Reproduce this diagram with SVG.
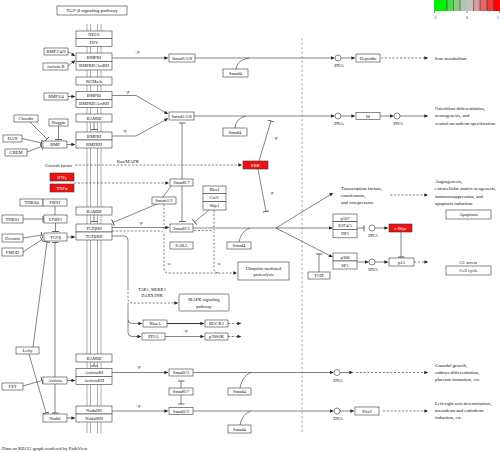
<svg xmlns="http://www.w3.org/2000/svg" width="500" height="452" viewBox="0 0 500 452">
<defs>
<marker id="arr" viewBox="0 0 6 6" refX="6" refY="3" markerWidth="4" markerHeight="3.6" markerUnits="userSpaceOnUse" orient="auto"><path d="M0,0L6,3L0,6z" fill="#222"/></marker>
<marker id="inh" viewBox="-1 -5 2 10" refX="0" refY="0" markerWidth="1.4" markerHeight="7" markerUnits="userSpaceOnUse" orient="auto"><path d="M0,-5V5" stroke="#222" stroke-width="1"/></marker>
</defs>
<style>
text{font-family:"Liberation Serif","Times New Roman",serif;fill:#111}
.n rect{fill:#fff;stroke:#3a3a3a;stroke-width:.6}
.n text{font-size:4.6px;text-anchor:middle}
.hit rect{fill:#ee1111}
.hit text{fill:#fff}
.dna circle{fill:#fff;stroke:#333;stroke-width:.6}
.dna text{font-size:4.5px;text-anchor:middle}
.lbl{font-size:4.8px}
.sm{font-size:4.3px}
.mid{text-anchor:middle}
.c path{fill:none;stroke:#333;stroke-width:.6}
.c .d{stroke-dasharray:2.2 1.6}
.c .a{marker-end:url(#arr)}
.c .i{marker-end:url(#inh)}
.c .ii{marker-start:url(#inh);marker-end:url(#inh)}
.mem line{stroke:#8a8a8a;stroke-width:.7}
</style>
<rect width="500" height="452" fill="#fff"/>

<g id="legend">
<rect x="434" y="0" width="13" height="11" fill="#00f000"/>
<rect x="447" y="0" width="6.5" height="11" fill="#44dd44"/>
<rect x="453.5" y="0" width="6.5" height="11" fill="#88cc88"/>
<rect x="460" y="0" width="7" height="11" fill="#b4c4b4"/>
<rect x="467" y="0" width="6.5" height="11" fill="#c8bebe"/>
<rect x="473.5" y="0" width="6.5" height="11" fill="#d89a9a"/>
<rect x="480" y="0" width="7" height="11" fill="#e06a6a"/>
<rect x="487" y="0" width="6.5" height="11" fill="#ee3a3a"/>
<rect x="493.5" y="0" width="6.5" height="11" fill="#ff0000"/>
<g stroke="#222" stroke-width=".5">
<line x1="447" y1="0" x2="447" y2="11"/><line x1="453.5" y1="0" x2="453.5" y2="11"/><line x1="460" y1="0" x2="460" y2="11"/><line x1="473.5" y1="0" x2="473.5" y2="11"/><line x1="480" y1="0" x2="480" y2="11"/><line x1="487" y1="0" x2="487" y2="11"/><line x1="493.5" y1="0" x2="493.5" y2="11"/>
<line x1="434.5" y1="11" x2="434.5" y2="13"/><line x1="467" y1="11" x2="467" y2="13"/><line x1="499.5" y1="11" x2="499.5" y2="13"/>
</g>
<text x="435" y="18.5" class="sm mid" style="font-size:3.8px">-1</text>
<text x="467" y="18.5" class="sm mid" style="font-size:3.8px">0</text>
<text x="498" y="18.5" class="sm mid" style="font-size:3.8px">1</text>
</g>

<g class="mem">
<line x1="87" y1="24" x2="87" y2="433"/><line x1="90.5" y1="24" x2="90.5" y2="433"/>
<line x1="97.5" y1="24" x2="97.5" y2="433"/><line x1="101" y1="24" x2="101" y2="433"/>
</g>
<line x1="302" y1="38" x2="302" y2="434" stroke="#999" stroke-width=".8" stroke-dasharray="2.5 2"/>

<g class="c">
<!-- ligands to receptors -->
<path class="a" d="M68,51.5L75,56"/>
<path class="a" d="M68,66L75,60.5"/>
<path class="a" d="M68,96.5H75"/>
<path class="a" d="M67,144.5H75"/>
<path class="i" d="M30,122L47,139"/>
<path class="i" d="M58.5,126V139.5"/>
<path class="i" d="M22,138.5L41.5,143"/>
<path class="i" d="M27,152L41.5,146.5"/>
<path class="i" d="M23,219H43"/>
<path d="M55,206V215"/>
<path class="i" d="M55.5,223V231.5"/>
<path class="i" d="M23,238L42,235"/>
<path class="i" d="M23,252L42,239.5"/>
<path class="a" d="M67,237H75"/>
<path class="i" d="M33,347L47,242"/>
<path class="ii" d="M55,242.5V413"/>
<path class="i" d="M29,354L46,413"/>
<path class="i" d="M23,386L42,380.5"/>
<path class="a" d="M67,380.5H75"/>
<path class="a" d="M67,418H75"/>
<!-- BAMBI -->
<path class="i" d="M94,122V129.5"/>
<path class="i" d="M94,215V221.5"/>
<path class="i" d="M94,362V366"/>
<!-- receptors to Smads -->
<path class="a" d="M112,58H168"/>
<path class="a" d="M112,95.5H136L168,114"/>
<path class="a" d="M112,136H136L168,118.5"/>
<path class="a" d="M112,227.5H169"/>
<path class="a" d="M112,372.5H168"/>
<path class="a" d="M112,411H168"/>
<!-- growth factor / IFN -->
<path class="a d" d="M75,165H242"/>
<path class="a d" d="M74,183H169"/>
<!-- Smad rows -->
<path class="a" d="M195,58H334.5"/>
<path d="M236,69Q237,60 249,58"/>
<path class="a" d="M194,116H334.5"/>
<path d="M235,128Q236,118 246,116"/>
<path d="M193,228H276"/>
<path d="M239,242Q241,231 250,228"/>
<path class="a" d="M276,228L333,193"/>
<path class="a" d="M276,228H332.5"/>
<path class="a" d="M276,228L332.5,257"/>
<path class="i" d="M319,272V254"/>
<!-- inhibitions middle -->
<path class="i" d="M182,179V123"/>
<path class="i" d="M182,186V221.5"/>
<path d="M163,197L171,186"/>
<path class="i" d="M157,204L113,222.5"/>
<path class="i" d="M209,210L194.5,222"/>
<path class="i" d="M259,161L271,121"/>
<path class="i" d="M258,169L266,211.5"/>
<!-- ubiquitination dashed -->
<path class="a d" d="M112,231H160Q164,231 164,235V268Q164,273 169,273H237"/>
<path class="d" d="M164,204V231"/>
<path class="d" d="M194,230.5H210Q214,230.5 214,234.5V268Q214,273 219,273"/>
<path class="d" d="M214,210V230.5"/>
<!-- TGFbRII non-Smad -->
<path d="M112,236H124Q128,236 128,240V288"/>
<path class="a d" d="M128,288V299Q128,303 132,303H178"/>
<path class="a" d="M128,303V332.5Q128,336.5 132,336.5H141"/>
<path class="a" d="M128,319.5Q128,323.5 132,323.5H142"/>
<path class="a" d="M167,323.5H204" style="stroke-width:1"/>
<path class="a" d="M165,336.5H204"/>
<path class="a d" d="M228,323.5H241"/>
<path class="a d" d="M228,336.5H241"/>
<!-- activin / nodal -->
<path class="a" d="M193,372.5H333.5"/>
<path d="M240,388Q242,376 251,372.5"/>
<path class="i" d="M181,388V381"/>
<path class="i" d="M181,395V404"/>
<path class="a" d="M193,411H333.5"/>
<path d="M240,425Q242,414 251,411"/>
<!-- nucleus -->
<path class="a" d="M341,58H355"/>
<path class="a d" d="M381,58H428"/>
<path class="a" d="M341,116H355"/>
<path class="a" d="M380,116H393.5"/>
<path class="a" d="M400,116H428"/>
<path class="a d" d="M390,195H428"/>
<path class="i" d="M357,228H364"/>
<path class="a" d="M375,228H388"/>
<path class="i" d="M401,232V257"/>
<path class="a" d="M357,262H368.5"/>
<path class="a" d="M375,262H388"/>
<path class="a d" d="M414,262H428"/>
<path class="a" d="M340,372.5H353"/>
<path class="a d" d="M356,372.5H428"/>
<path class="a" d="M340,411H354"/>
<path class="a d" d="M383,411H428"/>
</g>

<g class="lbls">
<text x="137" y="53" class="sm mid">+p</text>
<text x="127" y="92.5" class="sm mid">+p</text>
<text x="124" y="132" class="sm mid">+p</text>
<text x="140" y="223.5" class="sm mid">+p</text>
<text x="138" y="368" class="sm mid">+p</text>
<text x="138" y="406.5" class="sm mid">+p</text>
<text x="185" y="332" class="sm mid">+p</text>
<text x="275" y="139" class="sm mid">+p</text>
<text x="271" y="194" class="sm mid">+p</text>
<text x="168" y="265" class="sm mid">+u</text>
<text x="218" y="265" class="sm mid">+u</text>
<text x="45" y="167" class="lbl">Growth factor</text>
<text x="128" y="162.5" class="lbl mid">Ras/MAPK</text>
<text x="152" y="290.5" class="sm mid">TAK1, MEKK1</text>
<text x="152" y="296.5" class="sm mid">DAXX/JNK</text>
<text x="435" y="59.5" class="lbl">Iron metabolism</text>
<text x="435" y="109.5" class="lbl">Osteoblast differentiation,</text>
<text x="435" y="117" class="lbl">neurogenesis, and</text>
<text x="435" y="124.5" class="lbl">ventral mesoderm specification.</text>
<text x="341" y="189.5" class="lbl">Transcription factors,</text>
<text x="341" y="196.5" class="lbl">coactivators,</text>
<text x="341" y="203.5" class="lbl">and corepressors</text>
<text x="435" y="183" class="lbl">Angiogenesis,</text>
<text x="435" y="190.3" class="lbl">extracellular matrix neogenesis,</text>
<text x="435" y="197.6" class="lbl">immunosuppression, and</text>
<text x="435" y="204.9" class="lbl">apoptosis induction</text>
<text x="468" y="263.5" class="lbl mid">G1 arrest</text>
<text x="435" y="366.5" class="lbl">Gonadal growth,</text>
<text x="435" y="373.8" class="lbl">embryo differentiation,</text>
<text x="435" y="381.1" class="lbl">placenta formation, etc.</text>
<text x="435" y="404.5" class="lbl">Left-right axis determination,</text>
<text x="435" y="411.8" class="lbl">mesoderm and endoderm</text>
<text x="435" y="419.1" class="lbl">induction, etc.</text>
<text x="2" y="450" class="lbl">Data on KEGG graph rendered by PathView</text>
</g>

<g id="n-title" class="n"><rect x="57" y="6" width="70" height="9"/><text x="92" y="12.3" style="font-size:5px">TGF-β signaling pathway</text></g>
<g id="n-neo1" class="n"><rect x="76" y="31" width="36" height="7.5"/><text x="94" y="36.4">NEO1</text></g>
<g id="n-hjv" class="n"><rect x="76" y="38.5" width="36" height="8"/><text x="94" y="44.1">HJV</text></g>
<g id="n-bmpri1" class="n"><rect x="76" y="53" width="36" height="8.5"/><text x="94" y="58.9">BMPRI</text></g>
<g id="n-bmprii1" class="n"><rect x="76" y="61.5" width="36" height="8.5"/><text x="94" y="67.4">BMPRII/ActRII</text></g>
<g id="n-rgm" class="n"><rect x="76" y="77" width="36" height="8"/><text x="94" y="82.6">RGMa/b</text></g>
<g id="n-bmpri2" class="n"><rect x="76" y="91.5" width="36" height="8"/><text x="94" y="97.1">BMPRI</text></g>
<g id="n-bmprii2" class="n"><rect x="76" y="99.5" width="36" height="8"/><text x="94" y="105.1">BMPRII/ActRII</text></g>
<g id="n-bambi1" class="n"><rect x="76" y="114" width="36" height="8"/><text x="94" y="119.6">BAMBI</text></g>
<g id="n-bmpri3" class="n"><rect x="76" y="132" width="36" height="8"/><text x="94" y="137.6">BMPRI</text></g>
<g id="n-bmprii3" class="n"><rect x="76" y="140" width="36" height="8"/><text x="94" y="145.6">BMPRII</text></g>
<g id="n-bambi2" class="n"><rect x="76" y="207" width="36" height="8"/><text x="94" y="212.6">BAMBI</text></g>
<g id="n-tgfbr1" class="n"><rect x="76" y="224" width="36" height="8"/><text x="94" y="229.6">TGFβRI</text></g>
<g id="n-tgfbr2" class="n"><rect x="76" y="232" width="36" height="8"/><text x="94" y="237.6">TGFβRII</text></g>
<g id="n-bambi3" class="n"><rect x="76" y="354" width="36" height="8"/><text x="94" y="359.6">BAMBI</text></g>
<g id="n-actr1" class="n"><rect x="76" y="368.5" width="36" height="8"/><text x="94" y="374.1">ActivinRI</text></g>
<g id="n-actr2" class="n"><rect x="76" y="376.5" width="36" height="8"/><text x="94" y="382.1">ActivinRII</text></g>
<g id="n-nodr1" class="n"><rect x="76" y="406" width="36" height="8"/><text x="94" y="411.6">NodalRI</text></g>
<g id="n-nodr2" class="n"><rect x="76" y="414" width="36" height="8"/><text x="94" y="419.6">NodalRII</text></g>

<g id="n-bmp249" class="n"><rect x="44" y="48" width="24" height="7"/><text x="56" y="53.1">BMP2/4/9</text></g>
<g id="n-activinb" class="n"><rect x="43" y="63" width="25" height="7"/><text x="55.5" y="68.1">Activin B</text></g>
<g id="n-bmp24" class="n"><rect x="44" y="93" width="24" height="7"/><text x="56" y="98.1">BMP2/4</text></g>
<g id="n-chordin" class="n"><rect x="14" y="115" width="24" height="7"/><text x="26" y="120.1">Chordin</text></g>
<g id="n-noggin" class="n"><rect x="49" y="119" width="19" height="7"/><text x="58.5" y="124.1">Noggin</text></g>
<g id="n-dan" class="n"><rect x="3" y="135" width="19" height="7"/><text x="12.5" y="140.1">DAN</text></g>
<g id="n-bmp" class="n"><rect x="43" y="141" width="24" height="7"/><text x="55" y="146.1">BMP</text></g>
<g id="n-grem" class="n"><rect x="5" y="149" width="22" height="7"/><text x="16" y="154.1">GREM</text></g>
<g id="n-ifng" class="n hit"><rect x="50" y="173" width="24" height="8"/><text x="62" y="178.6">IFNγ</text></g>
<g id="n-tnfa" class="n hit"><rect x="50" y="184" width="24" height="8"/><text x="62" y="189.6">TNFα</text></g>
<g id="n-thbs4" class="n"><rect x="20" y="199" width="23" height="7"/><text x="31.5" y="204.1">THBS4</text></g>
<g id="n-fbn1" class="n"><rect x="43" y="199" width="24" height="7"/><text x="55" y="204.1">FBN1</text></g>
<g id="n-thbs1" class="n"><rect x="2" y="215" width="21" height="8"/><text x="12.5" y="220.6">THBS1</text></g>
<g id="n-ltbp1" class="n"><rect x="44" y="215" width="23" height="8"/><text x="55.5" y="220.6">LTBP1</text></g>
<g id="n-decorin" class="n"><rect x="2" y="234" width="21" height="8"/><text x="12.5" y="239.6">Decorin</text></g>
<g id="n-tgfb" class="n"><rect x="44" y="233" width="23" height="8"/><text x="55.5" y="238.6">TGFβ</text></g>
<g id="n-fmod" class="n"><rect x="2" y="248" width="21" height="8"/><text x="12.5" y="253.6">FMOD</text></g>
<g id="n-lefty" class="n"><rect x="16" y="347" width="23" height="7"/><text x="27.5" y="352.1">Lefty</text></g>
<g id="n-fst" class="n"><rect x="2" y="383" width="21" height="7"/><text x="12.5" y="388.1">FST</text></g>
<g id="n-activin" class="n"><rect x="43" y="377" width="24" height="7"/><text x="55" y="382.1">Activin</text></g>
<g id="n-nodal" class="n"><rect x="43" y="414" width="24" height="8"/><text x="55" y="419.6">Nodal</text></g>

<g id="n-smad158a" class="n"><rect x="169" y="54" width="26" height="8"/><text x="182" y="59.6">Smad1/5/8</text></g>
<g id="n-smad4a" class="n"><rect x="223" y="69" width="25" height="8"/><text x="235.5" y="74.6">Smad4</text></g>
<g id="n-smad158b" class="n"><rect x="169" y="112" width="25" height="8"/><text x="181.5" y="117.6">Smad1/5/8</text></g>
<g id="n-smad4b" class="n"><rect x="223" y="128" width="24" height="8"/><text x="235" y="133.6">Smad4</text></g>
<g id="n-erk" class="n hit"><rect x="243" y="161" width="25" height="8"/><text x="255.5" y="166.6">ERK</text></g>
<g id="n-smad67a" class="n"><rect x="170" y="179" width="23" height="7"/><text x="181.5" y="184.1">Smad6/7</text></g>
<g id="n-smurf" class="n"><rect x="152" y="197" width="24" height="7"/><text x="164" y="202.1">Smurf1/2</text></g>
<g id="n-rbx1" class="n"><rect x="203" y="186" width="23" height="7.5"/><text x="214.5" y="191.4">Rbx1</text></g>
<g id="n-cul1" class="n"><rect x="203" y="193.5" width="23" height="8"/><text x="214.5" y="199.1">Cul1</text></g>
<g id="n-skp1" class="n"><rect x="203" y="201.5" width="23" height="8.5"/><text x="214.5" y="207.4">Skp1</text></g>
<g id="n-smad23a" class="n"><rect x="170" y="224" width="23" height="8"/><text x="181.5" y="229.6">Smad2/3</text></g>
<g id="n-sara" class="n"><rect x="170" y="242" width="23" height="7"/><text x="181.5" y="247.1">SARA</text></g>
<g id="n-smad4c" class="n"><rect x="227" y="242" width="24" height="7"/><text x="239" y="247.1">Smad4</text></g>
<g id="n-ubiq" class="n"><rect x="238" y="262" width="51" height="18"/><text x="263.5" y="269.5">Ubiquitin mediated</text><text x="263.5" y="276">proteolysis</text></g>
<g id="n-mapk" class="n"><rect x="179" y="294" width="50" height="17" rx="1"/><text x="204" y="301">MAPK signaling</text><text x="204" y="307.5">pathway</text></g>
<g id="n-rhoa" class="n"><rect x="143" y="320" width="24" height="7"/><text x="155" y="325.1">RhoA</text></g>
<g id="n-rock1" class="n"><rect x="205" y="320" width="23" height="7"/><text x="216.5" y="325.1">ROCK1</text></g>
<g id="n-pp2a" class="n"><rect x="142" y="333" width="23" height="7"/><text x="153.5" y="338.1">PP2A</text></g>
<g id="n-p70s6k" class="n"><rect x="205" y="333" width="23" height="7"/><text x="216.5" y="338.1">p70S6K</text></g>
<g id="n-smad23b" class="n"><rect x="169" y="369" width="24" height="7"/><text x="181" y="374.1">Smad2/3</text></g>
<g id="n-smad67b" class="n"><rect x="169" y="388" width="24" height="7"/><text x="181" y="393.1">Smad6/7</text></g>
<g id="n-smad4d" class="n"><rect x="228" y="388" width="23" height="7"/><text x="239.5" y="393.1">Smad4</text></g>
<g id="n-smad23c" class="n"><rect x="169" y="407.5" width="24" height="7"/><text x="181" y="412.6">Smad2/3</text></g>
<g id="n-smad4e" class="n"><rect x="228" y="425" width="23" height="8"/><text x="239.5" y="430.6">Smad4</text></g>

<g id="n-hepcidin" class="n"><rect x="356" y="54" width="24" height="8"/><text x="368" y="59.6">Hepcidin</text></g>
<g id="n-id" class="n"><rect x="356" y="112.5" width="24" height="7"/><text x="368" y="117.6">Id</text></g>
<g id="n-p107" class="n"><rect x="333" y="214" width="24" height="7.7"/><text x="345" y="219.5">p107</text></g>
<g id="n-e2f45" class="n"><rect x="333" y="221.7" width="24" height="7.6"/><text x="345" y="227.1">E2F4/5</text></g>
<g id="n-dp1" class="n"><rect x="333" y="229.3" width="24" height="8.5"/><text x="345" y="235.2">DP1</text></g>
<g id="n-cmyc" class="n hit"><rect x="389" y="224" width="23" height="8"/><text x="400.5" y="229.6">c-Myc</text></g>
<g id="n-p300" class="n"><rect x="333" y="253" width="24" height="8"/><text x="345" y="258.6">p300</text></g>
<g id="n-sp1" class="n"><rect x="333" y="261" width="24" height="8"/><text x="345" y="266.6">SP1</text></g>
<g id="n-p15" class="n"><rect x="389" y="258" width="25" height="8"/><text x="401.5" y="263.6">p15</text></g>
<g id="n-tgif" class="n"><rect x="308" y="272" width="22" height="7"/><text x="319" y="277.1">TGIF</text></g>
<g id="n-apoptosis" class="n"><rect x="446" y="210" width="45" height="9"/><text x="468.5" y="216.2">Apoptosis</text></g>
<g id="n-cellcycle" class="n"><rect x="446" y="266" width="45" height="9"/><text x="468.5" y="272.2">Cell cycle</text></g>
<g id="n-pitx2" class="n"><rect x="355" y="407" width="24" height="8"/><text x="367" y="412.6">Pitx2</text></g>

<g id="dna1" class="dna"><circle cx="338" cy="58" r="3"/><text x="339" y="67">DNA</text></g>
<g id="dna2" class="dna"><circle cx="338" cy="116" r="3"/><text x="339" y="125">DNA</text></g>
<g id="dna3" class="dna"><circle cx="397" cy="116" r="3"/><text x="398" y="125">DNA</text></g>
<g id="dna4" class="dna"><circle cx="372" cy="228" r="3"/><text x="373" y="237">DNA</text></g>
<g id="dna5" class="dna"><circle cx="372" cy="262" r="3"/><text x="373" y="271">DNA</text></g>
<g id="dna6" class="dna"><circle cx="337" cy="372.5" r="3"/><text x="338" y="381.5">DNA</text></g>
<g id="dna7" class="dna"><circle cx="337" cy="411" r="3"/><text x="338" y="420">DNA</text></g>
</svg>
